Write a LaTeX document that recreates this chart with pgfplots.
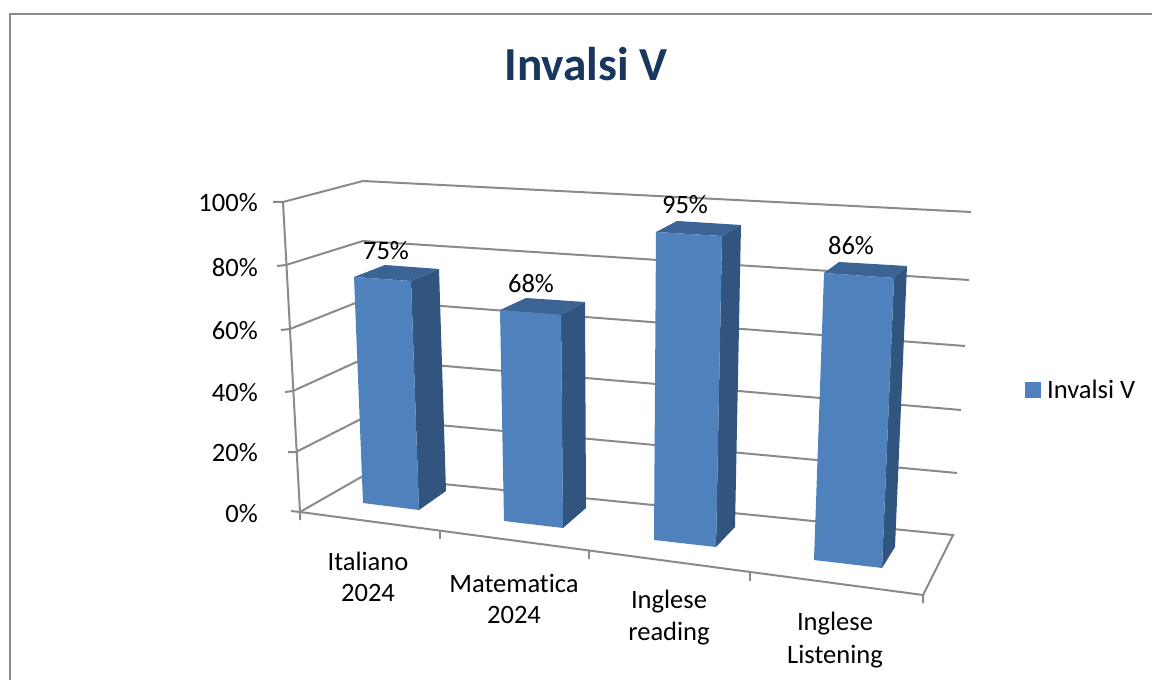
\documentclass[border=0pt]{standalone}
\usepackage{pgfplots}
\usepackage{fontspec}
\setmainfont[Ligatures=CommonOff]{Carlito}
\pgfplotsset{compat=1.18}
\definecolor{front}{HTML}{4F81BD}
\definecolor{side}{HTML}{325580}
\definecolor{topf}{HTML}{3B6393}
\definecolor{gridc}{HTML}{8A8A8A}
\definecolor{titlec}{HTML}{17375E}
\newcommand{\lab}{\fontsize{19.9}{23}\selectfont}
\begin{document}
\begin{tikzpicture}
\path[use as bounding box] (0,0) rectangle (864pt,510pt);
\begin{axis}[
  at={(0,0)}, anchor=south west,
  scale only axis, width=864pt, height=510pt,
  xmin=0, xmax=1152, ymin=0, ymax=680, y dir=reverse,
  hide axis, clip=true,
  legend style={at={(axis cs:1025,390)}, anchor=west, draw=none, fill=none,
    font=\lab, inner sep=0pt, outer sep=0pt, /tikz/every even column/.append style={column sep=0pt}},
  legend cell align=left,
  grid line/.style={draw=gridc, line width=1.5pt, forget plot},
  frontf/.style={fill=front, draw=none, forget plot},
  sidef/.style={fill=side, draw=none, forget plot},
  topff/.style={fill=topf, draw=none, forget plot},
]
% chart frame
\addplot[draw=gridc, line width=1.5pt, forget plot] coordinates {(10,680) (10,14) (1152,14)};
% walls and gridlines: 100, 80, 60, 40, 20, 0 %
\addplot[grid line] coordinates {(273,202) (283,202) (363,181) (971,212)};
\addplot[grid line] coordinates {(277,266) (286,265) (363,241) (969,280)};
\addplot[grid line] coordinates {(281,330) (290,329) (363,300) (965,346)};
\addplot[grid line] coordinates {(285,392) (293,391) (363,359) (961,410)};
\addplot[grid line] coordinates {(288,452) (296,452) (363,418) (957,473)};
\addplot[grid line] coordinates {(291,511) (300,512) (363,476) (953,535) (923,595)};
% vertical axis
\addplot[grid line] coordinates {(283,202) (300,512) (300,520)};
% front floor edge and ticks
\addplot[grid line] coordinates {(300,512) (923,595) (923,603)};
\addplot[grid line] coordinates {(440,531) (440,539)};
\addplot[grid line] coordinates {(589,551) (589,559)};
\addplot[grid line] coordinates {(750,573) (750,581)};
% Italiano 2024: 75
\addplot[sidef] coordinates {(411,281) (439,269) (446,491) (419,510)} -- cycle;
\addplot[topff] coordinates {(354,277) (385,265) (439,269) (411,281)} -- cycle;
\addplot[frontf] coordinates {(354,277) (411,281) (419,510) (363,503)} -- cycle;
% Matematica 2024: 68
\addplot[sidef] coordinates {(561,315) (585,302) (586,508) (563,528)} -- cycle;
\addplot[topff] coordinates {(500,310) (526,298) (585,302) (561,315)} -- cycle;
\addplot[frontf] coordinates {(500,310) (561,315) (563,528) (504,521)} -- cycle;
% Inglese reading: 95
\addplot[sidef] coordinates {(722,236) (741,225) (735,527) (716,547)} -- cycle;
\addplot[topff] coordinates {(656,232) (677,221) (741,225) (722,236)} -- cycle;
\addplot[frontf] coordinates {(656,232) (722,236) (716,547) (654,540)} -- cycle;
% Inglese Listening: 86
\addplot[sidef] coordinates {(894,278) (907,266) (895,547) (882,568)} -- cycle;
\addplot[topff] coordinates {(824,273) (839,262) (907,266) (894,278)} -- cycle;
\addplot[frontf] coordinates {(824,273) (894,278) (882,568) (814,560)} -- cycle;
% legend
\addlegendimage{legend image code/.code={\fill[front] (0pt,-5.5pt) rectangle (11.2pt,5.5pt);}}
\addlegendentry{\hspace{3pt}Invalsi V}
% title
\node[text=titlec, font=\fontsize{35.5}{40}\selectfont\bfseries] at (axis cs:586,64) {Invalsi V};
% y tick labels
\foreach \t/\y in {100\%/203,80\%/268,60\%/331,40\%/393,20\%/453,0\%/514}{
  \edef\temp{\noexpand\node[anchor=east, font=\noexpand\lab, inner sep=0pt] at (axis cs:258,\y) {\t};}
  \temp
}
% data labels
\node[font=\lab] at (axis cs:386,251) {75\%};
\node[font=\lab] at (axis cs:531,284) {68\%};
\node[font=\lab] at (axis cs:685,205) {95\%};
\node[font=\lab] at (axis cs:851,246) {86\%};
% category labels
\node[font=\lab] at (axis cs:368,561) {Italiano};
\node[font=\lab] at (axis cs:368,593) {2024};
\node[font=\lab] at (axis cs:514,583) {Matematica};
\node[font=\lab] at (axis cs:514,615) {2024};
\node[font=\lab] at (axis cs:669,602) {Inglese};
\node[font=\lab] at (axis cs:669,634) {reading};
\node[font=\lab] at (axis cs:835,624) {Inglese};
\node[font=\lab] at (axis cs:835,657) {Listening};
\end{axis}
\end{tikzpicture}
\end{document}
